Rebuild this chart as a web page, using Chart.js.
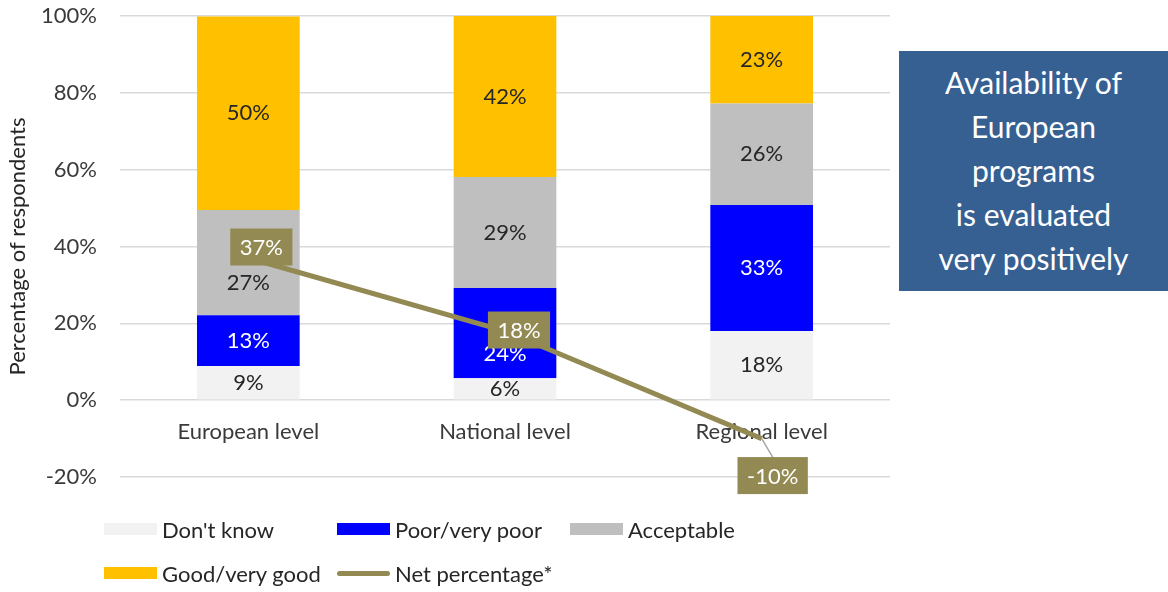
<!DOCTYPE html>
<html>
<head>
<meta charset="utf-8">
<script src="https://cdn.jsdelivr.net/npm/chart.js@4.4.0/dist/chart.umd.min.js"></script>
<style>
  html, body { margin: 0; padding: 0; background: #fff; }
  body { width: 1168px; height: 592px; position: relative; overflow: hidden; font-family: Lato, sans-serif; }
  #chart { position: absolute; left: 0; top: 0; }
  #note { position: absolute; left: 899px; top: 51px; width: 269px; height: 240px; background: #376092; color: #fff;
          font-size: 30px; line-height: 44px; text-align: center; box-sizing: border-box; padding-top: 9px; }
  #legend { position: absolute; left: 104px; top: 516px; display: grid; grid-template-columns: 233px 233px 233px;
            row-gap: 18px; font-size: 22px; color: #262626; }
  .item { display: flex; align-items: center; height: 26px; white-space: nowrap; }
  .sw { width: 53px; height: 12px; margin-right: 5px; flex: none; }
  .ln { height: 5px; border-radius: 3px; }
</style>
</head>
<body>
<canvas id="chart" width="1168" height="592"></canvas>
<div id="note">Availability of<br>European<br>programs<br>is evaluated<br>very positively</div>
<div id="legend"></div>
<script>
const categories = ["European level", "National level", "Regional level"]
const dontKnow = [8.9, 5.7, 18.0]
const poor = [13.2, 23.5, 32.8]
const acceptable = [27.4, 28.9, 26.4]
const good = [50.4, 41.9, 22.8]
const netPercentage = [37, 18, -10]
const yTicks = [-20, 0, 20, 40, 60, 80, 100]

const colors = {
  dontKnow: "#F2F2F2",
  poor: "#0000FF",
  acceptable: "#BFBFBF",
  good: "#FFC000",
  net: "#938953",
}

// manual label nudges, like the ones moved by hand in the original
const barLabelShift = { "2-0": 20, "1-1": 21 }
const netLabelShift = [[13, -11], [14, -1], [11, 37]]

const FONT = "Lato, sans-serif"
const SIZE = 22

const labelPlugin = {
  id: "labels",
  afterDatasetsDraw(chart) {
    const ctx = chart.ctx
    ctx.save()
    ctx.font = SIZE + "px " + FONT
    ctx.textAlign = "center"
    ctx.textBaseline = "middle"
    chart.data.datasets.forEach((ds, di) => {
      if (ds.type === "line") return
      chart.getDatasetMeta(di).data.forEach((bar, i) => {
        const y = (bar.y + bar.base) / 2 + (barLabelShift[di + "-" + i] || 0)
        ctx.fillStyle = ds.labelColor
        ctx.fillText(Math.round(ds.data[i]) + "%", bar.x, y)
      })
    })
    const li = chart.data.datasets.findIndex(d => d.type === "line")
    chart.getDatasetMeta(li).data.forEach((pt, i) => {
      const txt = netPercentage[i] + "%"
      const cx = pt.x + netLabelShift[i][0]
      const cy = pt.y + netLabelShift[i][1]
      const w = ctx.measureText(txt).width + 19
      const h = 37
      if (Math.abs(netLabelShift[i][1]) > 20) {
        ctx.strokeStyle = "#A6A6A6"
        ctx.lineWidth = 1.5
        ctx.beginPath()
        ctx.moveTo(pt.x, pt.y)
        ctx.lineTo(cx, cy - h / 2)
        ctx.stroke()
      }
      ctx.fillStyle = colors.net
      ctx.fillRect(cx - w / 2, cy - h / 2, w, h)
      ctx.fillStyle = "#fff"
      ctx.fillText(txt, cx, cy + 1)
    })
    ctx.restore()
  }
}

const barSet = (label, data, color, labelColor) => ({
  type: "bar", label, data, backgroundColor: color, labelColor,
  stack: "bars", order: 1, barPercentage: 0.4, categoryPercentage: 1,
})

new Chart(document.getElementById("chart"), {
  data: {
    labels: categories,
    datasets: [
      barSet("Don't know", dontKnow, colors.dontKnow, "#262626"),
      barSet("Poor/very poor", poor, colors.poor, "#fff"),
      barSet("Acceptable", acceptable, colors.acceptable, "#262626"),
      barSet("Good/very good", good, colors.good, "#262626"),
      {
        type: "line", label: "Net percentage*", data: netPercentage,
        borderColor: colors.net, borderWidth: 5, pointRadius: 0,
        stack: "net", order: 0,
      },
    ],
  },
  options: {
    responsive: false,
    animation: false,
    layout: { padding: { top: 16, right: 278, bottom: 115, left: 0 } },
    plugins: { legend: { display: false }, tooltip: { enabled: false } },
    scales: {
      x: {
        stacked: true,
        position: { y: 0 },
        grid: { display: false },
        border: { display: false },
        ticks: { font: { family: FONT, size: SIZE }, color: "#3a3a3a", padding: 11 },
      },
      y: {
        stacked: true,
        min: -20, max: 100,
        afterFit: s => { s.width = 120; s.paddingTop = 0; s.paddingBottom = 0 },
        afterBuildTicks: s => { s.ticks = yTicks.map(v => ({ value: v })) },
        grid: { color: "#D9D9D9", lineWidth: 1.5, drawTicks: false },
        border: { display: false },
        ticks: { font: { family: FONT, size: SIZE }, color: "#3a3a3a", padding: 23, callback: v => v + "%" },
        title: {
          display: true, text: "Percentage of respondents",
          font: { family: FONT, size: SIZE }, color: "#262626", padding: { top: 5, bottom: 0 },
        },
      },
    },
  },
  plugins: [labelPlugin],
})

const legendItems = [
  ["Don't know", colors.dontKnow, false],
  ["Poor/very poor", colors.poor, false],
  ["Acceptable", colors.acceptable, false],
  ["Good/very good", colors.good, false],
  ["Net percentage*", colors.net, true],
]
const legend = document.getElementById("legend")
legendItems.forEach(([name, color, isLine]) => {
  const item = document.createElement("div")
  item.className = "item"
  const sw = document.createElement("span")
  sw.className = isLine ? "sw ln" : "sw"
  sw.style.background = color
  item.appendChild(sw)
  item.appendChild(document.createTextNode(name))
  legend.appendChild(item)
})
</script>
</body>
</html>
